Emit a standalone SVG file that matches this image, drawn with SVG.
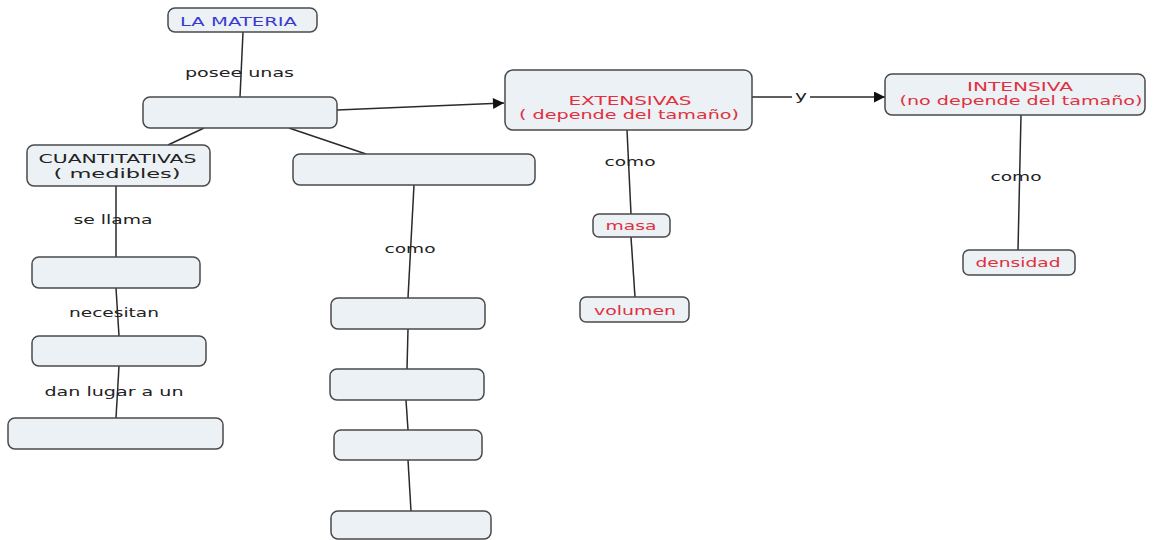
<svg xmlns="http://www.w3.org/2000/svg" width="1153" height="540" viewBox="0 0 1153 540">
<style>
.box{fill:#ebf1f4;stroke:#4a4a4a;stroke-width:1.5}
.t{font-family:"DejaVu Sans",Verdana,sans-serif;font-size:13px;text-anchor:middle}
.blue{fill:#3a3ad0}
.red{fill:#e03040}
.blk{fill:#222}
.lbl{font-family:"DejaVu Sans",Verdana,sans-serif;font-size:13px;text-anchor:middle;fill:#222}
.ln{stroke:#2a2a2a;stroke-width:1.5;fill:none}
</style>
<defs>
<marker id="ah2" viewBox="0 0 10 10" refX="10" refY="5" markerWidth="19" markerHeight="11" markerUnits="userSpaceOnUse" orient="auto">
<path d="M0,0 L10,5 L0,10 z" fill="#111"/>
</marker>
</defs>
<rect width="1153" height="540" fill="#fff"/>

<g id="connectors">
<line class="ln" x1="243" y1="32" x2="240" y2="97"/>
<line class="ln" x1="337" y1="110" x2="504" y2="103" marker-end="url(#ah2)"/>
<line class="ln" x1="752" y1="97" x2="885" y2="97" marker-end="url(#ah2)"/>
<line class="ln" x1="204" y1="128" x2="168" y2="145"/>
<line class="ln" x1="289" y1="128" x2="366" y2="154"/>
<line class="ln" x1="116" y1="186" x2="116" y2="257"/>
<line class="ln" x1="116" y1="288" x2="119" y2="336"/>
<line class="ln" x1="119" y1="366" x2="116" y2="418"/>
<line class="ln" x1="414" y1="185" x2="408" y2="298"/>
<line class="ln" x1="408" y1="329" x2="407" y2="369"/>
<line class="ln" x1="406" y1="400" x2="408" y2="430"/>
<line class="ln" x1="408" y1="460" x2="411" y2="511"/>
<line class="ln" x1="627" y1="130" x2="631" y2="214"/>
<line class="ln" x1="631" y1="237" x2="635" y2="297"/>
<line class="ln" x1="1021" y1="115" x2="1018" y2="250"/>
<rect x="792" y="90" width="18" height="14" fill="#fff"/>
<text class="lbl" x="239.5" y="77" textLength="109" lengthAdjust="spacingAndGlyphs">posee unas</text>
<text class="lbl" x="801" y="100" textLength="12" lengthAdjust="spacingAndGlyphs">y</text>
<text class="lbl" x="113" y="224" textLength="79" lengthAdjust="spacingAndGlyphs">se llama</text>
<text class="lbl" x="114" y="317" textLength="90" lengthAdjust="spacingAndGlyphs">necesitan</text>
<text class="lbl" x="114" y="396" textLength="139" lengthAdjust="spacingAndGlyphs">dan lugar a un</text>
<text class="lbl" x="410" y="253" textLength="51" lengthAdjust="spacingAndGlyphs">como</text>
<text class="lbl" x="630" y="166" textLength="51" lengthAdjust="spacingAndGlyphs">como</text>
<text class="lbl" x="1016" y="181" textLength="51" lengthAdjust="spacingAndGlyphs">como</text>
</g>

<g id="n-materia">
<rect class="box" x="168" y="8" width="149" height="24" rx="7"/>
<text class="t blue" x="238.5" y="26" textLength="117" lengthAdjust="spacingAndGlyphs">LA MATERIA</text>
</g>
<g id="n-propiedades">
<rect class="box" x="143" y="97" width="194" height="31" rx="7"/>
</g>
<g id="n-cuantitativas">
<rect class="box" x="27" y="145" width="183" height="41" rx="7"/>
<text class="t blk" x="117.5" y="163" textLength="158" lengthAdjust="spacingAndGlyphs">CUANTITATIVAS</text>
<text class="t blk" x="117" y="178" textLength="127" lengthAdjust="spacingAndGlyphs">( medibles)</text>
</g>
<g id="n-cualitativas">
<rect class="box" x="293" y="154" width="242" height="31" rx="7"/>
</g>
<g id="n-b">
<rect class="box" x="32" y="257" width="168" height="31" rx="7"/>
</g>
<g id="n-c">
<rect class="box" x="32" y="336" width="174" height="30" rx="7"/>
</g>
<g id="n-d">
<rect class="box" x="8" y="418" width="215" height="31" rx="7"/>
</g>
<g id="n-e">
<rect class="box" x="331" y="298" width="154" height="31" rx="7"/>
</g>
<g id="n-f">
<rect class="box" x="330" y="369" width="154" height="31" rx="7"/>
</g>
<g id="n-g">
<rect class="box" x="334" y="430" width="148" height="30" rx="7"/>
</g>
<g id="n-h">
<rect class="box" x="331" y="511" width="160" height="28" rx="7"/>
</g>
<g id="n-extensivas">
<rect class="box" x="505" y="70" width="247" height="60" rx="8"/>
<text class="t red" x="630" y="105" textLength="123" lengthAdjust="spacingAndGlyphs">EXTENSIVAS</text>
<text class="t red" x="629" y="119" textLength="220" lengthAdjust="spacingAndGlyphs">( depende del tamaño)</text>
</g>
<g id="n-intensiva">
<rect class="box" x="885" y="74" width="260" height="41" rx="7"/>
<text class="t red" x="1020" y="91" textLength="106" lengthAdjust="spacingAndGlyphs">INTENSIVA</text>
<text class="t red" x="1021" y="105" textLength="243" lengthAdjust="spacingAndGlyphs">(no depende del tamaño)</text>
</g>
<g id="n-masa">
<rect class="box" x="593" y="214" width="77" height="23" rx="6"/>
<text class="t red" x="631" y="230" textLength="51" lengthAdjust="spacingAndGlyphs">masa</text>
</g>
<g id="n-volumen">
<rect class="box" x="580" y="297" width="109" height="25" rx="6"/>
<text class="t red" x="635" y="315" textLength="82" lengthAdjust="spacingAndGlyphs">volumen</text>
</g>
<g id="n-densidad">
<rect class="box" x="963" y="250" width="112" height="25" rx="6"/>
<text class="t red" x="1018" y="267" textLength="85" lengthAdjust="spacingAndGlyphs">densidad</text>
</g>
</svg>
